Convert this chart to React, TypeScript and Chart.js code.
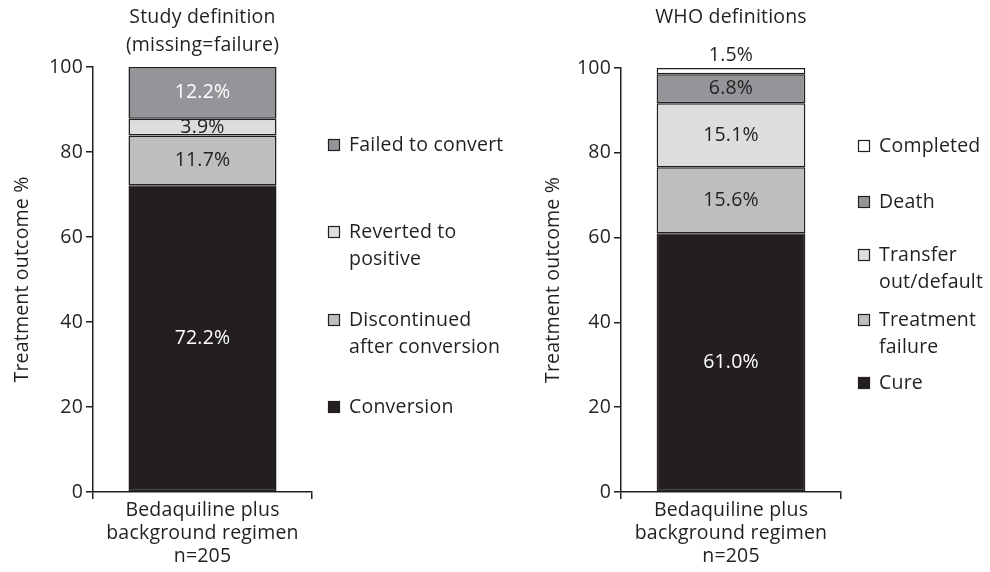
import React, { useEffect, useRef } from "react";
import { Chart, registerables } from "chart.js";
Chart.register(...registerables);

// ---- data ----
const categories = [["Bedaquiline plus", "background regimen", "n=205"]];
const yTickValues = [0, 20, 40, 60, 80, 100];

const studyTitle = ["Study definition", "(missing=failure)"];
const studySeries = ["Conversion", "Discontinued after conversion", "Reverted to positive", "Failed to convert"];
const studyValues = [72.2, 11.7, 3.9, 12.2];
const studyLegend = [["Failed to convert"], ["Reverted to", "positive"], ["Discontinued", "after conversion"], ["Conversion"]];

const whoTitle = ["WHO definitions"];
const whoSeries = ["Cure", "Treatment failure", "Transfer out/default", "Death", "Completed"];
const whoValues = [61.0, 15.6, 15.1, 6.8, 1.5];
const whoLegend = [["Completed"], ["Death"], ["Transfer", "out/default"], ["Treatment", "failure"], ["Cure"]];

const yTitle = "Treatment outcome %";

// ---- styles ----
const DARK = "#231f20";
const FONT = "'Open Sans'";
const FS = 19.5;
const SPACING = "0.2px";
const studyColors = [DARK, "#bcbec0", "#dcdddf", "#939598"];
const studyLabelColors = ["#ffffff", DARK, DARK, "#ffffff"];
const studyLegendColors = ["#939598", "#dcdddf", "#bcbec0", DARK];
const whoColors = [DARK, "#bcbec0", "#dcdddf", "#939598", "#ffffff"];
const whoLabelColors = ["#ffffff", DARK, DARK, DARK, DARK];
const whoLegendColors = ["#ffffff", "#939598", "#dcdddf", "#bcbec0", DARK];

type PanelProps = {
  left: number;
  width: number;
  yWidth: number;
  padRight: number;
  padTop: number;
  yTitlePad: number;
  title: string[];
  titleY: number[];
  series: string[];
  values: number[];
  colors: string[];
  labelColors: string[];
  aboveLast: boolean;
  legend: string[][];
  legendColors: string[];
  legendX: number;
  legendY: number[];
};

function Panel(p: PanelProps) {
  const ref = useRef<HTMLCanvasElement | null>(null);
  useEffect(() => {
    if (!ref.current) return;
    const font = { family: FONT, size: FS };
    const overlay = {
      id: "overlay",
      beforeDraw(chart: any) {
        (chart.ctx as any).letterSpacing = SPACING;
      },
      afterDatasetsDraw(chart: any) {
        const ctx = chart.ctx;
        ctx.save();
        ctx.letterSpacing = SPACING;
        ctx.font = `${FS}px ${FONT}`;
        ctx.textAlign = "center";
        ctx.textBaseline = "middle";
        p.values.forEach((v, i) => {
          const el = chart.getDatasetMeta(i).data[0];
          const { x, y, base } = el.getProps(["x", "y", "base"], true);
          const isAbove = p.aboveLast && i === p.values.length - 1;
          ctx.fillStyle = p.labelColors[i];
          const ly = isAbove ? y - 13 : (y + base) / 2;
          ctx.fillText(v.toFixed(1) + "%", x, ly);
        });
        ctx.restore();
      },
      afterDraw(chart: any) {
        const ctx = chart.ctx;
        const ca = chart.chartArea;
        ctx.save();
        ctx.letterSpacing = SPACING;
        ctx.fillStyle = DARK;
        ctx.font = `${FS}px ${FONT}`;
        ctx.textAlign = "center";
        ctx.textBaseline = "middle";
        p.title.forEach((t, i) => ctx.fillText(t, (ca.left + ca.right) / 2, p.titleY[i]));
        ctx.textAlign = "left";
        p.legend.forEach((lines, i) => {
          const y0 = p.legendY[i];
          ctx.fillStyle = p.legendColors[i];
          ctx.fillRect(p.legendX + 0.5, y0 - 5.5, 11, 11);
          ctx.strokeStyle = DARK;
          ctx.lineWidth = 1.2;
          ctx.strokeRect(p.legendX + 0.5, y0 - 5.5, 11, 11);
          ctx.fillStyle = DARK;
          lines.forEach((ln, j) => ctx.fillText(ln, p.legendX + 21, y0 + j * 27));
        });
        ctx.restore();
      },
    };
    const chart = new Chart(ref.current, {
      type: "bar",
      data: {
        labels: categories as any,
        datasets: p.series.map((s, i) => ({
          label: s,
          data: [p.values[i]],
          backgroundColor: p.colors[i],
          borderColor: DARK,
          borderWidth: 1.5,
          borderSkipped: false,
          barPercentage: 0.676,
          categoryPercentage: 1,
        })),
      },
      options: {
        animation: false,
        responsive: false,
        events: [],
        layout: { padding: { left: 0, top: p.padTop, right: p.padRight, bottom: 0 } },
        plugins: { legend: { display: false }, title: { display: false }, tooltip: { enabled: false } },
        scales: {
          x: {
            stacked: true,
            offset: true,
            grid: { display: true, drawOnChartArea: false, drawTicks: true, tickLength: 7, offset: true, color: DARK, lineWidth: 1.5 },
            border: { display: true, color: DARK, width: 1.5 },
            ticks: { color: DARK, font: { family: FONT, size: FS, lineHeight: 1.17 }, padding: 0, maxRotation: 0, autoSkip: false },
            afterFit: (s: any) => { s.height = 80; },
          },
          y: {
            stacked: true,
            min: 0,
            max: 100,
            afterBuildTicks: (s: any) => { s.ticks = yTickValues.map((v) => ({ value: v })); },
            ticks: { color: DARK, font, padding: 3 },
            grid: { display: true, drawOnChartArea: false, drawTicks: true, tickLength: 7, color: DARK, lineWidth: 1.5 },
            border: { display: true, color: DARK, width: 1.5 },
            title: { display: true, text: yTitle, color: DARK, font, padding: { top: p.yTitlePad, bottom: 0 } },
            afterFit: (s: any) => { s.width = p.yWidth; },
          },
        },
      } as any,
      plugins: [overlay],
    });
    return () => chart.destroy();
  }, []);
  return (
    <canvas
      ref={ref}
      width={p.width}
      height={572}
      style={{ position: "absolute", left: p.left, top: 0, width: p.width, height: 572, display: "block" }}
    />
  );
}

export default function App() {
  return (
    <div style={{ position: "absolute", left: 0, top: 0, width: 990, height: 572, background: "#ffffff", overflow: "hidden" }}>
      <Panel
        left={0}
        width={530}
        yWidth={93}
        padRight={530 - 312}
        padTop={67}
        yTitlePad={11}
        title={studyTitle}
        titleY={[17, 45]}
        series={studySeries}
        values={studyValues}
        colors={studyColors}
        labelColors={studyLabelColors}
        aboveLast={false}
        legend={studyLegend}
        legendColors={studyLegendColors}
        legendX={328}
        legendY={[145, 232, 320, 407]}
      />
      <Panel
        left={530}
        width={460}
        yWidth={91}
        padRight={460 - 311}
        padTop={68}
        yTitlePad={12}
        title={whoTitle}
        titleY={[17]}
        series={whoSeries}
        values={whoValues}
        colors={whoColors}
        labelColors={whoLabelColors}
        aboveLast={true}
        legend={whoLegend}
        legendColors={whoLegendColors}
        legendX={328}
        legendY={[146, 202, 255, 320, 383]}
      />
    </div>
  );
}
